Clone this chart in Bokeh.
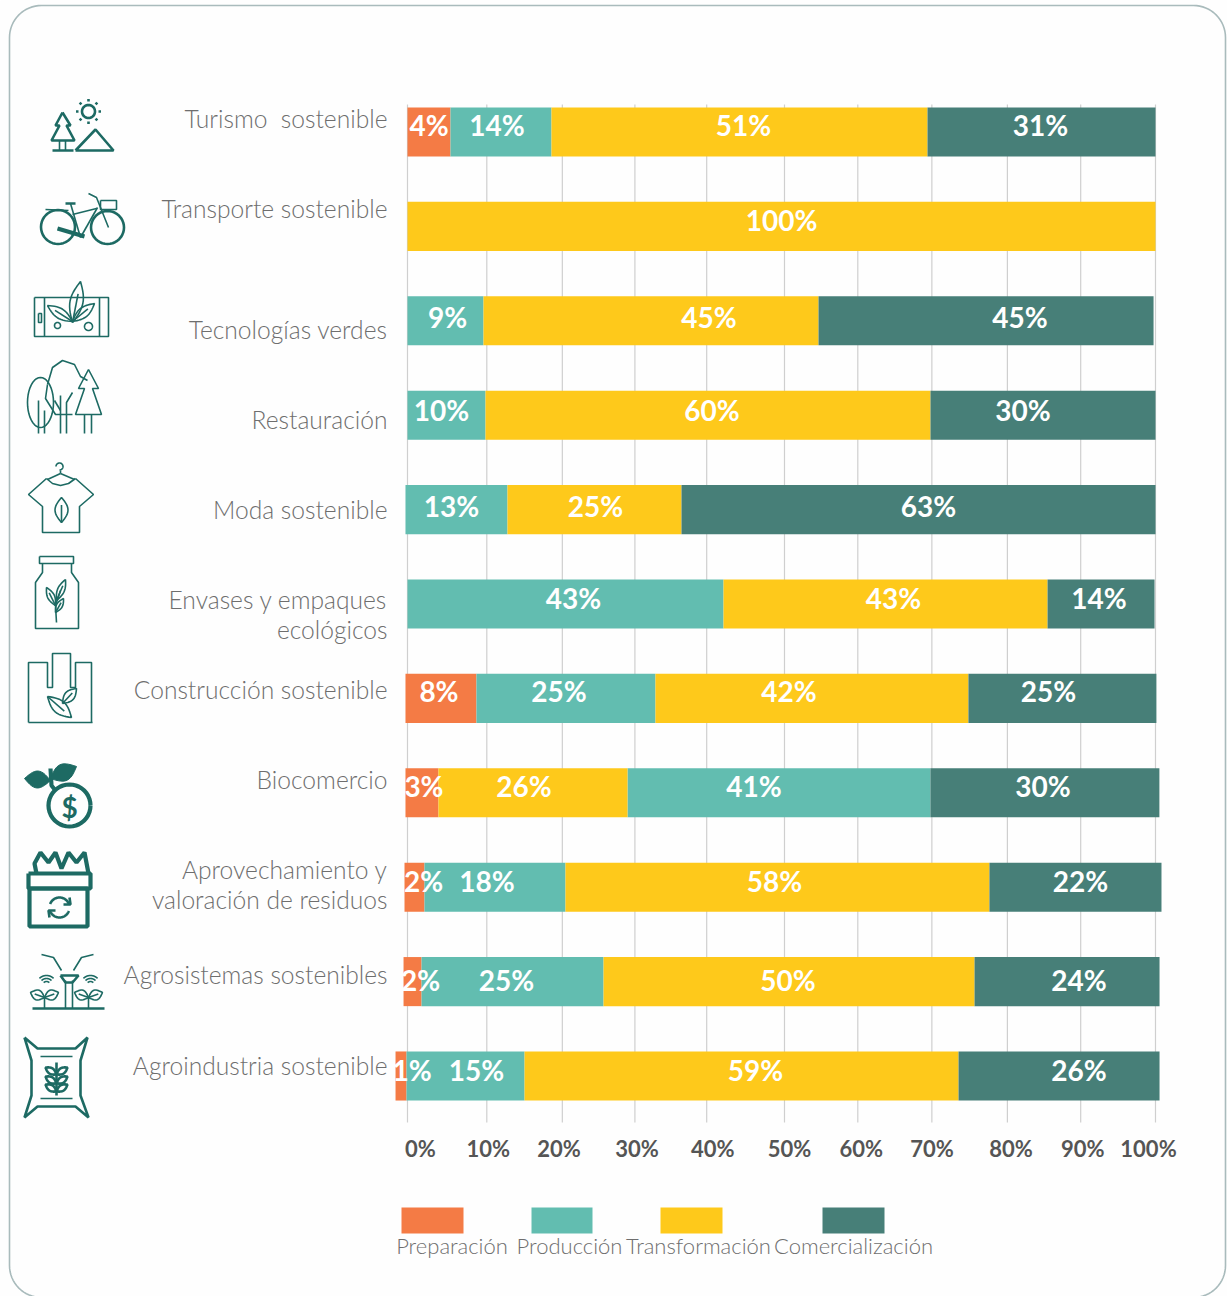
import math
from bokeh.core.properties import value
from bokeh.embed import file_html
from bokeh.models import ColumnDataSource, Range1d
from bokeh.plotting import figure
from bokeh.resources import INLINE

# ---------- DATA ----------
categories = ["Turismo \u00a0sostenible", "Transporte sostenible", "Tecnologías verdes", "Restauración",
              "Moda sostenible", "Envases y empaques\necológicos", "Construcción sostenible", "Biocomercio",
              "Aprovechamiento y\nvaloración de residuos", "Agrosistemas sostenibles", "Agroindustria sostenible"]
series_names = ["Preparación", "Producción", "Transformación", "Comercialización"]
# drawn segment lengths, in % of the axis
preparacion = [5.75, 0, 0, 0, 0, 0, 9.49, 4.41, 2.67, 2.41, 1.47]
produccion = [13.5, 0, 10.16, 10.43, 13.64, 42.25, 23.93, 40.5, 18.85, 24.33, 15.78]
transformacion = [50.27, 100, 44.79, 59.49, 23.26, 43.32, 41.84, 25.27, 56.68, 49.6, 58.02]
comercializacion = [30.48, 0, 44.79, 30.08, 63.37, 14.3, 25.13, 30.61, 23.0, 24.73, 26.87]
row_start = [0, 0, 0, 0, -0.27, 0, -0.27, -0.27, -0.4, -0.53, -1.6]
# printed labels
label_prep = ["4%", "", "", "", "", "", "8%", "3%", "2%", "2%", "1%"]
label_prod = ["14%", "", "9%", "10%", "13%", "43%", "25%", "41%", "18%", "25%", "15%"]
label_trans = ["51%", "100%", "45%", "60%", "25%", "43%", "42%", "26%", "58%", "50%", "59%"]
label_com = ["31%", "", "45%", "30%", "63%", "14%", "25%", "30%", "22%", "24%", "26%"]
tick_labels = ["0%", "10%", "20%", "30%", "40%", "50%", "60%", "70%", "80%", "90%", "100%"]
gridlines = [0, 10.6, 20.7, 30.4, 40.0, 50.4, 60.2, 70.1, 80.2, 90, 100]

# ---------- STYLE / LAYOUT ----------
COLORS = ["#F47B45", "#62BDB0", "#FEC91B", "#477F78"]
ICON = "#1D6A63"
TXT = "#6E6E6E"
FONT = "Lato"
W, H = 1227, 1296
X0, XSCALE = 407, 7.48
Y0, YSTEP = 131.5, 94.4
# order of the segments in each row (Biocomercio has Transformación before Producción)
ORDER = [[0, 1, 2, 3]] * 11
ORDER[7] = [0, 2, 1, 3]
# horizontal nudge of printed labels from segment centre, px
NUDGE = [[0, -4, 4, -1], [0, 0, 0, 0], [0, 2, 58, 34], [0, -5, 4, -20], [0, -5, 1, 10], [0, 8, 8, -2],
         [-2, -7, -23, -14], [2, -25, -9, -2], [9, -8, -3, 5], [8, -6, -1, 12], [11, 11, 14, 20]]
LABEL_Y = [124, 219, 316, 409, 505, 597, 690, 785, 880, 979, 1069]
CAT_Y = [118, 208, 329, 419, 509, 599, 689, 779, 869, 974, 1065]
TICK_NUDGE = [13, 6, 2, 5, 6, 8, 5, 1, 5, 2, -7]

p = figure(width=W, height=H, output_backend="svg", toolbar_location=None, tools="",
           x_axis_location=None, y_axis_location=None, min_border=0,
           x_range=Range1d((0 - X0) / XSCALE, (W - X0) / XSCALE),
           y_range=Range1d((H - Y0) / YSTEP, (0 - Y0) / YSTEP))
p.grid.visible = False
p.outline_line_color = None
p.background_fill_color = "#FEFEFE"
p.border_fill_color = "#FEFEFE"
p.extra_x_ranges["px"] = Range1d(0, W)
p.extra_y_ranges["px"] = Range1d(H, 0)
PX = dict(x_range_name="px", y_range_name="px")
YPX = dict(y_range_name="px")

# ---------- frame ----------
def arc(cx, cy, r, a0=0, a1=360, n=40):
    return ([cx + r * math.cos(math.radians(a0 + (a1 - a0) * i / n)) for i in range(n + 1)],
            [cy + r * math.sin(math.radians(a0 + (a1 - a0) * i / n)) for i in range(n + 1)])

fx, fy = [], []
for cx, cy, a0 in [(1193, 37, -90), (1193, 1265, 0), (41, 1265, 90), (41, 37, 180)]:
    ax, ay = arc(cx, cy, 32, a0, a0 + 90, 16)
    fx += ax
    fy += ay
p.line(fx + fx[:1], fy + fy[:1], line_color="#A9BBBC", line_width=1.6, **PX)

# ---------- gridlines ----------
p.segment(x0=gridlines, x1=gridlines, y0=[104] * 11, y1=[1122] * 11, line_color="#CFCFCF", line_width=1.2, **YPX)

# ---------- bars ----------
vals = [preparacion, produccion, transformacion, comercializacion]
labs = [label_prep, label_prod, label_trans, label_com]
seg = {i: dict(y=[], left=[], right=[]) for i in range(4)}
lx, ly, lt, lo = [], [], [], []
for r in range(len(categories)):
    pos = row_start[r]
    for s in ORDER[r]:
        v = vals[s][r]
        if v <= 0:
            continue
        seg[s]["y"].append(r)
        seg[s]["left"].append(pos)
        seg[s]["right"].append(pos + v)
        lx.append(pos + v / 2)
        ly.append(LABEL_Y[r])
        lt.append(labs[s][r])
        lo.append(NUDGE[r][s])
        pos += v
for s in range(4):
    p.hbar(y="y", left="left", right="right", height=0.52, fill_color=COLORS[s], line_color=None,
           source=ColumnDataSource(seg[s]))
p.text(x="x", y="y", text="t", x_offset="o", source=ColumnDataSource(dict(x=lx, y=ly, t=lt, o=lo)),
       text_font=value(FONT), text_font_style="bold", text_font_size="28px", text_color="#FFFFFF",
       text_align="center", text_baseline="middle", **YPX)

# ---------- axis labels ----------
ticks = [i * 10 for i in range(11)]
p.text(x="x", y="y", text="t", x_offset="o",
       source=ColumnDataSource(dict(x=ticks, y=[1148] * 11, t=tick_labels, o=TICK_NUDGE)),
       text_font=value(FONT), text_font_style="bold", text_font_size="22px", text_color="#555555",
       text_align="center", text_baseline="middle", **YPX)

# ---------- category labels ----------
cx_, cy_, ct_ = [], [], []
for c, y in zip(categories, CAT_Y):
    for k, line in enumerate(c.split("\n")):
        cx_.append(387)
        cy_.append(y + 30 * k)
        ct_.append(line)
p.text(x=cx_, y=cy_, text=ct_, text_font=value("Lato Light"), text_font_size="24.6px", text_color=TXT,
       text_align="right", text_baseline="middle", **PX)

# ---------- legend ----------
LEG_X = [(401, 463), (531, 592), (660, 722), (822, 884)]
p.quad(left=[a for a, _ in LEG_X], right=[b for _, b in LEG_X], top=[1207] * 4, bottom=[1233] * 4,
       fill_color=COLORS, line_color=None, **PX)
p.text(x=[451.5, 569, 698, 853], y=[1245] * 4, text=series_names, text_font=value("Lato Light"),
       text_font_size="22px", text_color=TXT, text_align="center", text_baseline="middle", **PX)

# ---------- icons ----------
thin, thick, heavy, fills = [], [], [], []

def L(*pts, to=thin):
    to.append(([a for a, _ in pts], [b for _, b in pts]))

def C(cx, cy, r, to=thin, a0=0, a1=360, ry=None):
    ax, ay = arc(cx, cy, r, a0, a1)
    if ry is not None:
        ay = [cy + (v - cy) * ry / r for v in ay]
    to.append((ax, ay))

def R(x0, y0, x1, y1, to=thin):
    L((x0, y0), (x1, y0), (x1, y1), (x0, y1), (x0, y0), to=to)

def leaf(x0, y0, x1, y1, w, to=thin, mid=True):
    n = 14
    dx, dy = x1 - x0, y1 - y0
    ln = math.hypot(dx, dy)
    nx, ny = -dy / ln, dx / ln
    xs = [x0 + dx * i / n + nx * w * math.sin(math.pi * i / n) for i in range(n + 1)]
    ys = [y0 + dy * i / n + ny * w * math.sin(math.pi * i / n) for i in range(n + 1)]
    xs += [x0 + dx * i / n - nx * w * math.sin(math.pi * i / n) for i in range(n, -1, -1)]
    ys += [y0 + dy * i / n - ny * w * math.sin(math.pi * i / n) for i in range(n, -1, -1)]
    to.append((xs, ys))
    if mid and to is not fills:
        L((x0, y0), (x0 + dx * 0.7, y0 + dy * 0.7), to=to)

# 1 turismo
C(88, 111, 6.5, to=thick)
for a in range(0, 360, 45):
    ca, sa = math.cos(math.radians(a)), math.sin(math.radians(a))
    L((88 + 10 * ca, 111 + 10 * sa), (88 + 12.5 * ca, 111 + 12.5 * sa), to=thick)
L((62, 112), (55, 125), (59, 125), (51, 140), (74, 140), (66, 125), (70, 125), (62, 112), to=thick)
L((59, 140), (59, 150)); L((65, 140), (65, 150)); L((52, 150), (73, 150), to=thick)
L((75, 150), (95, 129), (113, 150), (75, 150), to=thick)
# 2 bicicleta
C(57.5, 226.5, 17, to=thick); C(107, 227, 16.5, to=thick)
L((45, 209), (68, 210)); L((65, 203), (75, 203), to=thick)
L((70, 203), (80, 237)); L((80, 237), (97, 207)); L((72, 214), (96, 208))
L((88, 193), (96, 197), (108, 227)); L((57, 228), (84, 236), to=heavy)
R(100, 200, 116, 209)
# 3 tecnologias
R(34, 297, 108, 336); L((44, 297), (44, 336)); L((99, 297), (99, 336))
R(38, 313, 41, 322)
leaf(72, 322, 80, 281, 6.5); leaf(72, 321, 47, 305, 5); leaf(72, 321, 94, 303, 5)
C(57, 325, 3); C(88, 326, 4)
# 4 restauracion
C(40, 402, 13, ry=25); L((38, 400), (38, 433)); L((44, 410), (44, 433))
L((47, 384), (52, 367), (62, 360), (74, 364), (80, 376), (87, 380))
L((47, 384), (45, 398), (55, 414), (72, 414))
L((60, 433), (60, 395)); L((66, 433), (66, 402), (72, 392)); L((60, 410), (54, 400))
L((88, 369), (78, 388), (84, 388), (75, 414), (101, 414), (92, 388), (98, 388), (88, 369))
L((84, 414), (84, 433)); L((91, 414), (91, 433))
# 5 moda
C(59, 466, 3.5, a0=180, a1=450); L((60, 470), (60, 473)); L((60, 473), (47, 479)); L((60, 473), (74, 479))
L((46, 478), (28, 494), (42, 506), (42, 532), (79, 532), (79, 506), (93, 494), (75, 478))
L((46, 478), (52, 483), (60, 485), (68, 483), (75, 478))
leaf(61, 522, 61, 497, 6.5)
# 6 envases
R(39, 556, 73, 563)
L((42, 563), (42, 572), (35, 582), (35, 628), (78, 628), (78, 582), (71, 572), (71, 563))
L((56, 622), (55, 605), (60, 590))
leaf(55, 605, 46, 587, 3.5); leaf(56, 600, 65, 579, 3.5); leaf(55, 612, 63, 598, 3)
# 7 construccion
L((28, 722), (92, 722))
L((28, 722), (28, 662), (47, 662), (47, 687), (52, 687), (52, 653), (70, 653), (70, 687), (75, 687),
  (75, 662), (91, 662), (91, 722))
leaf(47, 696, 71, 717, 6.5); leaf(62, 703, 76, 688, 5)
# 8 biocomercio
C(69, 805, 21, to=heavy)
L((50, 768), (51, 785), (55, 790), to=heavy)
leaf(24, 778, 50, 780, 8.5, to=fills); leaf(50, 778, 76, 766, 8.5, to=fills)
# 9 residuos
R(29, 888, 87, 926, to=heavy); R(28, 873, 90, 888, to=heavy)
L((36, 873), (34, 863), (40, 852), (48, 862), (55, 852), (61, 868), (68, 852), (76, 862), (84, 852), (88, 873), to=heavy)
C(59, 907, 10, to=thick, a0=200, a1=340); C(59, 907, 10, to=thick, a0=20, a1=160)
L((69, 897), (70, 904), (63, 904), to=thick); L((49, 917), (48, 910), (55, 910), to=thick)
# 10 agrosistemas
L((32, 1008), (104, 1008), to=thick)
L((65, 980), (65, 1008)); L((72, 980), (72, 1008))
L((60, 975), (78, 975), (72, 982), (65, 982), (60, 975), to=thick)
L((41, 954), (53, 957), (61, 970)); L((93, 954), (81, 957), (73, 970))
for cx in (46, 90):
    for r in (4, 7, 10):
        C(cx, 985, r, a0=225, a1=315)
    L((cx - 2, 1008), (cx - 2, 996))
for cx in (46, 90):
    leaf(cx - 2, 997, cx - 16, 992, 5); leaf(cx - 2, 997, cx + 12, 992, 5)
# 11 agroindustria
L((24, 1037), (37, 1048), (75, 1048), (87, 1037), (80, 1060), (80, 1095), (88, 1117), (75, 1106),
  (37, 1106), (24, 1117), (31, 1095), (31, 1060), (24, 1037), to=thick)
L((40, 1056), (72, 1056)); L((40, 1098), (72, 1098))
L((56, 1062), (56, 1095), to=thick)
for dy in (1070, 1079, 1087):
    leaf(56, dy + 4, 45, dy - 3, 3, to=thick, mid=False); leaf(56, dy + 4, 67, dy - 3, 3, to=thick, mid=False)

p.multi_line([a for a, _ in thin], [b for _, b in thin], line_color=ICON, line_width=1.6, **PX)
p.multi_line([a for a, _ in thick], [b for _, b in thick], line_color=ICON, line_width=2.6, **PX)
p.multi_line([a for a, _ in heavy], [b for _, b in heavy], line_color=ICON, line_width=4.2, **PX)
p.patches([a for a, _ in fills], [b for _, b in fills], fill_color=ICON, line_color=ICON, **PX)
p.text(x=[69], y=[806], text=["$"], text_font=value("Lato"), text_font_style="bold", text_font_size="28px",
       text_color=ICON, text_align="center", text_baseline="middle", **PX)

open("out.html", "w").write(file_html(p, INLINE))
